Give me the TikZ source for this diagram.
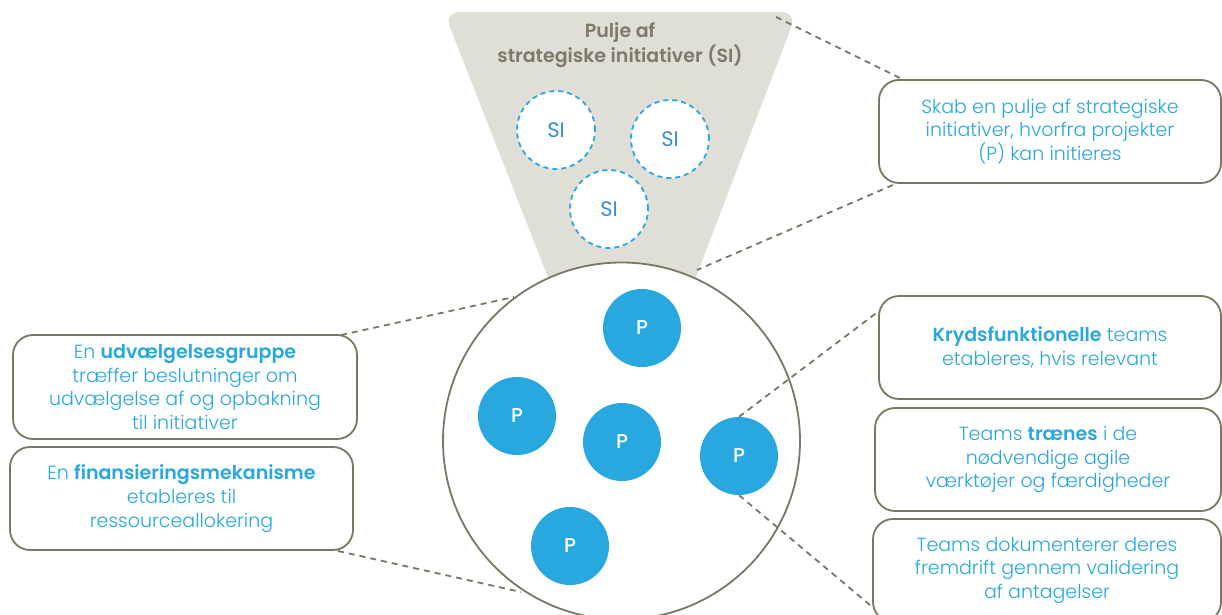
\documentclass[tikz,border=0pt]{standalone}
\usepackage{fontspec}
\setmainfont{Poppins}[UprightFont={* Light},BoldFont={* SemiBold}]
\newfontfamily\regfont{Poppins}[BoldFont={* Medium}]
\definecolor{pblue}{HTML}{29A8E0}
\definecolor{siblue}{HTML}{3A8ED0}
\definecolor{olive}{HTML}{7A7765}
\definecolor{funnelgray}{HTML}{DFDED7}
\definecolor{titlegray}{HTML}{7D7A68}
\begin{document}
\begin{tikzpicture}[x=1pt,y=-1pt,
  box/.style={draw=olive,line width=1.8pt,rounded corners=20pt,fill=white,
    text=pblue,align=center,font=\fontsize{19}{23.8}\selectfont,inner sep=0pt},
  sicircle/.style={circle,draw=pblue,fill=white,line width=1.8pt,dash pattern=on 5pt off 4pt,
    minimum size=78pt,inner sep=0pt,text=siblue,font=\regfont\fontsize{21}{24}\selectfont},
  pcircle/.style={circle,fill=pblue,minimum size=78pt,inner sep=0pt,text=white,
    font=\regfont\bfseries\fontsize{20}{24}\selectfont},
  conn/.style={draw=olive,line width=1.8pt,dash pattern=on 6pt off 5pt}]
\useasboundingbox (0,0) rectangle (1222,615);
% funnel
\fill[funnelgray,rounded corners=16pt] (444,12) -- (797,12) -- (691,290) -- (553,290) -- cycle;
\node[text=titlegray,align=center,font=\fontsize{19}{24.5}\bfseries\selectfont] (title) at (620,45)
  {Pulje af\\strategiske initiativer (SI)};
% big circle
\node[circle,draw=olive,fill=white,line width=1.8pt,minimum size=357pt,inner sep=0pt] (big) at (621.5,441) {};
% SI circles
\node[sicircle] (si1) at (556,130) {SI};
\node[sicircle] (si2) at (670,139) {SI};
\node[sicircle] (si3) at (609,209) {SI};
% P circles
\node[pcircle] (p1) at (642,328) {P};
\node[pcircle] (p2) at (517,416) {P};
\node[pcircle] (p3) at (622,442) {P};
\node[pcircle] (p4) at (739,456) {P};
\node[pcircle] (p5) at (570,546) {P};
% boxes
\node[box,minimum width=342pt,minimum height=103pt] (boxA) at (1050,131.5)
  {Skab en pulje af strategiske\\initiativer, hvorfra projekter\\(P) kan initieres};
\node[box,minimum width=344pt,minimum height=104pt] (boxB) at (185,387)
  {En \textbf{udvælgelsesgruppe}\\træffer beslutninger om\\udvælgelse af og opbakning\\til initiativer};
\node[box,minimum width=343pt,minimum height=103pt] (boxC) at (181.5,498.5)
  {En \textbf{finansieringsmekanisme}\\etableres til\\ressourceallokering};
\node[box,minimum width=342pt,minimum height=103pt] (boxD) at (1050,347.5)
  {\textbf{Krydsfunktionelle} teams\\etableres, hvis relevant};
\node[box,minimum width=346pt,minimum height=103pt] (boxE) at (1048,459.5)
  {Teams \textbf{trænes} i de\\nødvendige agile\\værktøjer og færdigheder};
\node[box,minimum width=348pt,minimum height=103pt] (boxF) at (1047,570.5)
  {Teams dokumenterer deres\\fremdrift gennem validering\\af antagelser};
% connector ends
\coordinate (fTR) at (776,17);
\coordinate (aTL) at (900,78);
\coordinate (aBL) at (893,185);
\coordinate (fBR) at (697,270);
\coordinate (bTR) at (341,335);
\coordinate (cB1) at (514,297);
\coordinate (cBR) at (338,551);
\coordinate (cB2) at (521,592);
\coordinate (dL) at (879,311);
\coordinate (fL) at (870,605);
% connectors
\draw[conn] (fTR) -- (aTL);
\draw[conn] (aBL) -- (fBR);
\draw[conn] (bTR) -- (cB1);
\draw[conn] (cBR) -- (cB2);
\draw[conn] (p4.north) -- (dL);
\draw[conn] (p4.south) -- (fL);
\end{tikzpicture}
\end{document}
